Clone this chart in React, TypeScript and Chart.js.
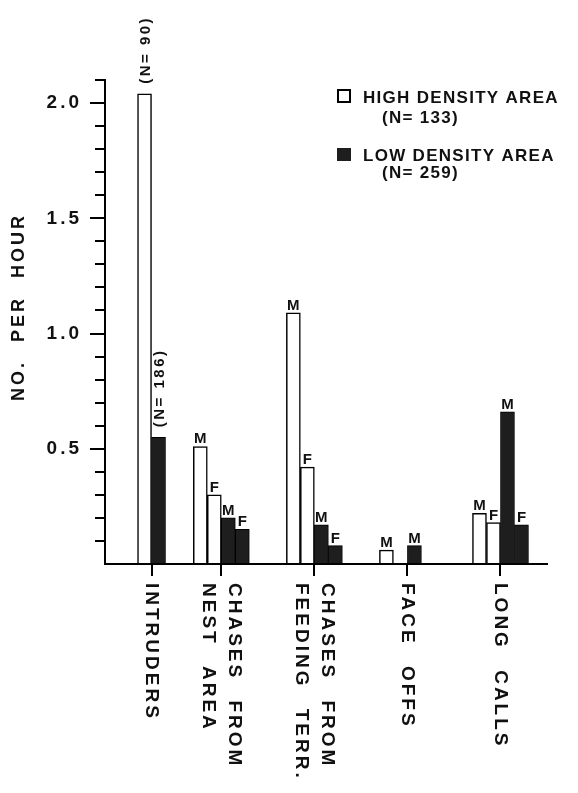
import { useEffect, useRef } from 'react';
import { Chart, registerables } from 'chart.js';

Chart.register(...registerables);

// ---- data ----
const categories: string[][] = [
  ['INTRUDERS'],
  ['CHASES FROM', 'NEST AREA'],
  ['CHASES FROM', 'FEEDING TERR.'],
  ['FACE OFFS'],
  ['LONG CALLS'],
];
const categoryPositions = [1, 2.5, 4.5, 6.5, 8.5];

const highTotal = [2.04, null, null, null, null];
const highMale = [null, 0.51, 1.09, 0.06, 0.22];
const highFemale = [null, 0.30, 0.42, 0, 0.18];
const lowTotal = [0.55, null, null, null, null];
const lowMale = [null, 0.20, 0.17, 0.08, 0.66];
const lowFemale = [null, 0.15, 0.08, 0, 0.17];

const highTotalLabel = '(N= 90)';
const lowTotalLabel = '(N= 186)';
const yTickLabels = [0.5, 1.0, 1.5, 2.0];
const yTitle = 'NO. PER HOUR';
const legendHigh = ['HIGH DENSITY AREA', '(N= 133)'];
const legendLow = ['LOW DENSITY AREA', '(N= 259)'];

const FONT = '"Liberation Sans", Arial, sans-serif';
const INK = '#111';
const DARK = '#1e1e1e';

const toPoints = (arr: (number | null)[]) =>
  arr.map((v, i) => ({ x: categoryPositions[i], y: v }));

const annotate = {
  id: 'annotate',
  beforeDraw(chart: any) {
    const ctx = chart.ctx;
    ctx.letterSpacing = '3px';
  },
  afterDatasetsDraw(chart: any) {
    const ctx = chart.ctx;
    chart.data.datasets.forEach((ds: any, di: number) => {
      const meta = chart.getDatasetMeta(di);
      meta.data.forEach((el: any, i: number) => {
        const raw = ds.data[i];
        if (!raw || raw.y === null || raw.y === undefined || raw.y <= 0) return;
        ctx.save();
        ctx.fillStyle = INK;
        if (ds.tag === 'M' || ds.tag === 'F') {
          ctx.font = `bold 15px ${FONT}`;
          ctx.letterSpacing = '0px';
          ctx.textAlign = 'center';
          ctx.textBaseline = 'alphabetic';
          ctx.fillText(ds.tag, el.x, el.y - 3);
        } else if (ds.nLabel) {
          ctx.font = `bold 15px ${FONT}`;
          ctx.letterSpacing = '2.5px';
          ctx.translate(el.x + 1, el.y - 10);
          ctx.rotate(-Math.PI / 2);
          ctx.textAlign = 'left';
          ctx.textBaseline = 'middle';
          ctx.fillText(ds.nLabel, 0, 0);
        }
        ctx.restore();
      });
    });
  },
  afterDraw(chart: any) {
    const ctx = chart.ctx;
    const xs = chart.scales.x;
    // category labels, rotated clockwise
    ctx.save();
    ctx.fillStyle = INK;
    ctx.font = `bold 19px ${FONT}`;
    ctx.letterSpacing = '3px';
    ctx.wordSpacing = '12px';
    categories.forEach((lines, i) => {
      const px = xs.getPixelForValue(categoryPositions[i]);
      ctx.save();
      ctx.translate(px, 583);
      ctx.rotate(Math.PI / 2);
      ctx.textAlign = 'left';
      ctx.textBaseline = 'middle';
      lines.forEach((line, j) => {
        const off = (j - (lines.length - 1) / 2) * 25.5;
        ctx.fillText(line, 0, off);
      });
      ctx.restore();
    });
    ctx.restore();

    // y-axis title, rotated counter-clockwise
    ctx.save();
    ctx.fillStyle = INK;
    ctx.font = `bold 18px ${FONT}`;
    ctx.letterSpacing = '3px';
    ctx.wordSpacing = '10px';
    ctx.translate(19, 307);
    ctx.rotate(-Math.PI / 2);
    ctx.textAlign = 'center';
    ctx.textBaseline = 'middle';
    ctx.fillText(yTitle, 0, 0);
    ctx.restore();

    // legend
    ctx.save();
    ctx.font = `bold 17px ${FONT}`;
    ctx.letterSpacing = '1.3px';
    ctx.textAlign = 'left';
    ctx.textBaseline = 'alphabetic';
    ctx.lineWidth = 2;
    ctx.strokeStyle = '#000';
    ctx.fillStyle = '#fff';
    ctx.fillRect(338, 90, 12, 12);
    ctx.strokeRect(338, 90, 12, 12);
    ctx.fillStyle = DARK;
    ctx.fillRect(337, 148, 14, 13);
    ctx.fillStyle = INK;
    ctx.fillText(legendHigh[0], 363, 103);
    ctx.fillText(legendHigh[1], 382, 123);
    ctx.fillText(legendLow[0], 363, 161);
    ctx.fillText(legendLow[1], 382, 178);
    ctx.restore();
  },
};

const isMajor = (v: number) => Math.round(v * 10) % 5 === 0;

export default function App() {
  const ref = useRef<HTMLCanvasElement | null>(null);
  useEffect(() => {
    if (!ref.current) return;
    const common = { barThickness: 14, skipNull: true, borderSkipped: 'bottom' };
    const chart = new Chart(ref.current, {
      type: 'bar',
      data: {
        datasets: [
          { ...common, label: 'High density area', data: toPoints(highTotal), backgroundColor: '#fff', borderColor: '#000', borderWidth: 1.5, nLabel: highTotalLabel } as any,
          { ...common, label: 'High density male', data: toPoints(highMale), backgroundColor: '#fff', borderColor: '#000', borderWidth: 1.5, tag: 'M' } as any,
          { ...common, label: 'High density female', data: toPoints(highFemale), backgroundColor: '#fff', borderColor: '#000', borderWidth: 1.5, tag: 'F' } as any,
          { ...common, label: 'Low density area', data: toPoints(lowTotal), backgroundColor: DARK, borderColor: '#000', borderWidth: 1, nLabel: lowTotalLabel } as any,
          { ...common, label: 'Low density male', data: toPoints(lowMale), backgroundColor: DARK, borderColor: '#000', borderWidth: 1, tag: 'M' } as any,
          { ...common, label: 'Low density female', data: toPoints(lowFemale), backgroundColor: DARK, borderColor: '#000', borderWidth: 1, tag: 'F' } as any,
        ],
      },
      options: {
        responsive: false,
        animation: false,
        devicePixelRatio: 1,
        layout: { padding: { top: 80, right: 31, left: 0, bottom: 0 } },
        plugins: {
          legend: { display: false },
          tooltip: { enabled: false },
        },
        scales: {
          x: {
            type: 'linear',
            min: 0,
            max: 9.5,
            offset: false,
            grid: { drawOnChartArea: false, drawTicks: true, tickLength: 12, color: '#000', lineWidth: 2, offset: false },
            border: { display: true, color: '#000', width: 2 },
            ticks: { display: false },
            afterBuildTicks: (s: any) => {
              s.ticks = categoryPositions.map((v) => ({ value: v }));
            },
            afterFit: (s: any) => {
              s.height = 229;
            },
          },
          y: {
            min: 0,
            max: 2.1,
            ticks: {
              stepSize: 0.1,
              autoSkip: false,
              padding: 8,
              color: INK,
              font: { family: FONT, size: 19, weight: 'bold' },
              callback: (v: any) => {
                const r = Math.round(Number(v) * 10) / 10;
                return yTickLabels.includes(r) ? r.toFixed(1) : '';
              },
            },
            grid: {
              drawOnChartArea: false,
              drawTicks: true,
              tickLength: 15,
              lineWidth: 2,
              color: '#000',
              tickColor: (c: any) => (c.tick && Math.round(c.tick.value * 10) === 0 ? 'rgba(0,0,0,0)' : '#000'),
              tickBorderDash: (c: any) => (c.tick && isMajor(c.tick.value) ? [] : [0, 5, 10, 20]),
            },
            border: { display: true, color: '#000', width: 2 },
            afterFit: (s: any) => {
              s.width = 105;
            },
          },
        },
      } as any,
      plugins: [annotate],
    });
    return () => chart.destroy();
  }, []);
  return (
    <div style={{ position: 'fixed', left: 0, top: 0, width: 578, height: 793, background: '#fff' }}>
      <canvas ref={ref} width={578} height={793} style={{ display: 'block' }} />
    </div>
  );
}
